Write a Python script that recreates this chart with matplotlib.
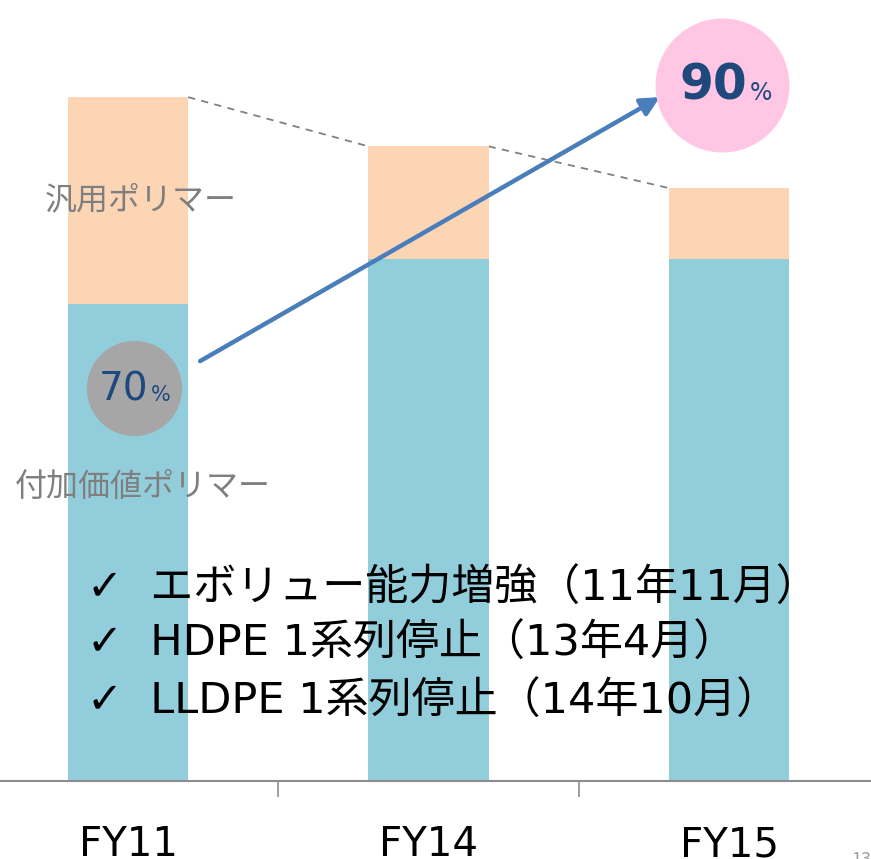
import matplotlib
matplotlib.use("Agg")
import matplotlib.pyplot as plt

plt.rcParams["font.family"] = ["Noto Sans CJK JP", "DejaVu Sans"]
LATIN_FIRST = ["DejaVu Sans", "Noto Sans CJK JP"]

# data (bar heights, FY11 total = 100)
years = ["FY11", "FY14", "FY15"]
value_added = [69.7, 76.3, 76.3]     # 付加価値ポリマー
commodity = [30.3, 16.5, 10.4]        # 汎用ポリマー
share_start, share_end = "70", "90"
notes = ["✓  エボリュー能力増強（11年11月）",
         "✓  HDPE 1系列停止（13年4月）",
         "✓  LLDPE 1系列停止（14年10月）"]

BLUE, PEACH, GREY_TXT = "#92CDDC", "#FCD5B5", "#7F7F7F"
NAVY, ARROW, AXIS = "#1F497D", "#4A7EBB", "#8C8C8C"

fig = plt.figure(figsize=(8.71, 8.59), dpi=100)
ax = fig.add_axes([0, 78 / 859, 1, 781 / 859])
x = list(range(len(years)))
w = 0.4
ax.bar(x, value_added, width=w, color=BLUE, zorder=2)
ax.bar(x, commodity, width=w, bottom=value_added, color=PEACH, zorder=2)

# dashed connectors between bar tops
tops = [a + b for a, b in zip(value_added, commodity)]
for i in range(len(x) - 1):
    ax.plot([x[i] + w / 2, x[i + 1] - w / 2], [tops[i], tops[i + 1]],
            color="#808080", lw=1.3, ls=(0, (4, 3.5)), zorder=1)

ax.set_xlim(-0.426, 2.4725)
ax.set_ylim(0, 114.2)

# ticks: separators between categories, labels at centres
ax.set_xticks([0.5, 1.5])
ax.set_xticklabels([])
ax.tick_params(axis="x", which="major", length=11.5, width=1.2, color=AXIS, direction="out")
ax.set_xticks(x, minor=True)
ax.set_xticklabels(years, minor=True, fontsize=29, family="DejaVu Sans")
ax.tick_params(axis="x", which="minor", length=0, pad=32)
ax.set_yticks([])
for s in ["top", "left", "right"]:
    ax.spines[s].set_visible(False)
ax.spines["bottom"].set_color(AXIS)
ax.spines["bottom"].set_linewidth(1.5)

# share circles + arrow
ax.annotate("", xy=(1.77, 100.0), xytext=(0.24, 61.4),
            arrowprops=dict(arrowstyle="-|>", color=ARROW, lw=3.2,
                            mutation_scale=28, shrinkA=0, shrinkB=0), zorder=4)
ax.scatter([0.02], [57.5], s=4700, color="#A6A6A6", zorder=5, linewidths=0)
ax.scatter([1.977], [101.8], s=9300, color="#FFC7E4", zorder=5, linewidths=0)
ax.text(0.02 + 0.048, 55.6, share_start, ha="right", va="baseline",
        fontsize=28, color=NAVY, family=LATIN_FIRST, zorder=6)
ax.text(0.02 + 0.056, 55.6, "%", ha="left", va="baseline",
        fontsize=15, color=NAVY, family=LATIN_FIRST, zorder=6)
ax.text(1.977 + 0.085, 99.6, share_end, ha="right", va="baseline",
        fontsize=35, fontweight="bold", color=NAVY, family=LATIN_FIRST, zorder=6)
ax.text(1.977 + 0.093, 99.6, "%", ha="left", va="baseline",
        fontsize=17, color=NAVY, family=LATIN_FIRST, zorder=6)

# series labels
ax.text(-0.276, 84.9, "汎用ポリマー", ha="left", va="center",
        fontsize=23, color=GREY_TXT, zorder=3)
ax.text(-0.376, 43.0, "付加価値ポリマー", ha="left", va="center",
        fontsize=23, color=GREY_TXT, zorder=3)

# notes
for note, yv in zip(notes, [28.1, 20.0, 11.6]):
    ax.text(-0.135, yv, note, ha="left", va="center", fontsize=31,
            color="black", family=LATIN_FIRST, zorder=6)

# page number, cut at the edge
fig.text(0.977, -0.012, "13", fontsize=13, color="#A0A0A0", ha="left", va="bottom")

fig.savefig("out.png", dpi=100)
